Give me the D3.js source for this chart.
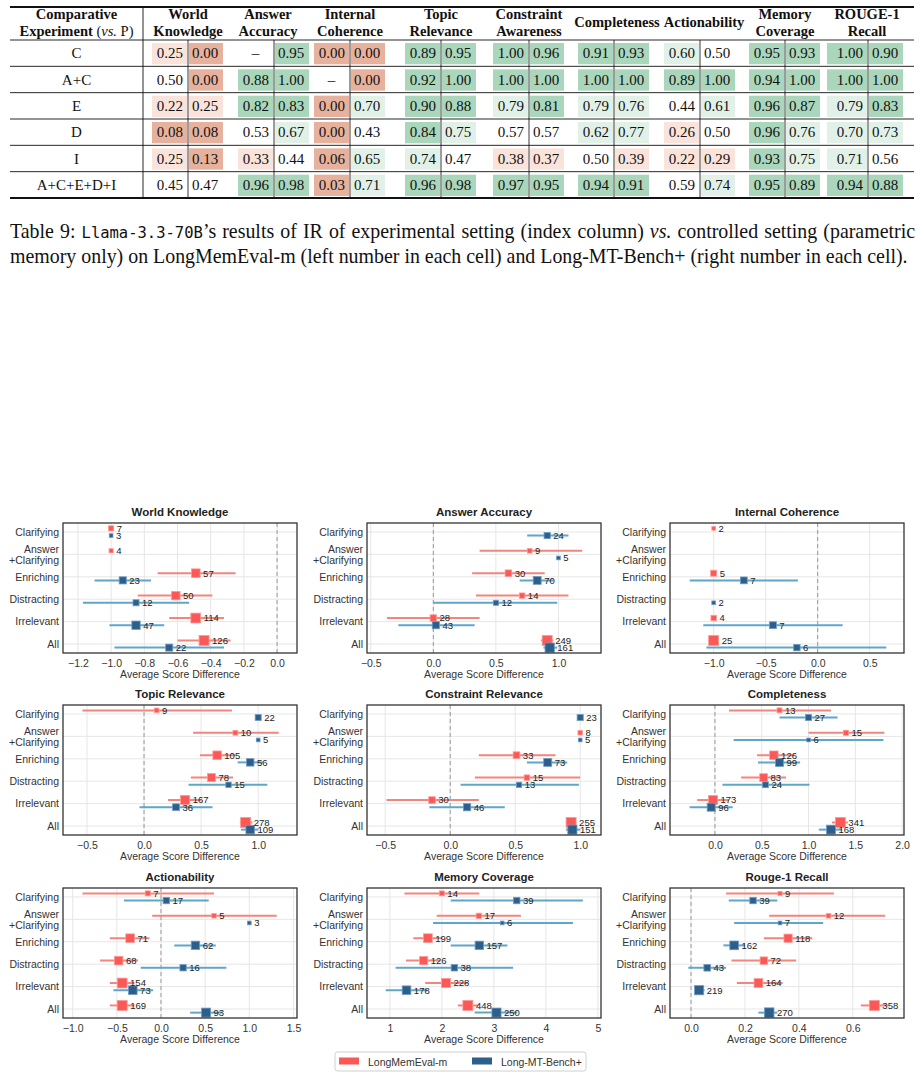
<!DOCTYPE html>
<html>
<head>
<meta charset="utf-8">
<script src="https://cdn.jsdelivr.net/npm/d3@7"></script>
<style>
  body { margin: 0; background: #fff; }
  svg { display: block; }
</style>
</head>
<body>
<svg id="chart" width="920" height="1078"></svg>
<script>
// ---------------- table data ----------------
const tableRows = ["C", "A+C", "E", "D", "I", "A+C+E+D+I"];
const tableHeaders = [["World", "Knowledge"], ["Answer", "Accuracy"], ["Internal", "Coherence"],
  ["Topic", "Relevance"], ["Constraint", "Awareness"], ["Completeness"], ["Actionability"],
  ["Memory", "Coverage"], ["ROUGE-1", "Recall"]];
// each row: [LongMemEval-m, Long-MT-Bench+], null = "–"
const worldKnowledge = [[0.25, 0.00], [0.50, 0.00], [0.22, 0.25], [0.08, 0.08], [0.25, 0.13], [0.45, 0.47]];
const answerAccuracy = [[null, 0.95], [0.88, 1.00], [0.82, 0.83], [0.53, 0.67], [0.33, 0.44], [0.96, 0.98]];
const internalCoherence = [[0.00, 0.00], [null, 0.00], [0.00, 0.70], [0.00, 0.43], [0.06, 0.65], [0.03, 0.71]];
const topicRelevance = [[0.89, 0.95], [0.92, 1.00], [0.90, 0.88], [0.84, 0.75], [0.74, 0.47], [0.96, 0.98]];
const constraintAwareness = [[1.00, 0.96], [1.00, 1.00], [0.79, 0.81], [0.57, 0.57], [0.38, 0.37], [0.97, 0.95]];
const completeness = [[0.91, 0.93], [1.00, 1.00], [0.79, 0.76], [0.62, 0.77], [0.50, 0.39], [0.94, 0.91]];
const actionability = [[0.60, 0.50], [0.89, 1.00], [0.44, 0.61], [0.26, 0.50], [0.22, 0.29], [0.59, 0.74]];
const memoryCoverage = [[0.95, 0.93], [0.94, 1.00], [0.96, 0.87], [0.96, 0.76], [0.93, 0.75], [0.95, 0.89]];
const rougeRecall = [[1.00, 0.90], [1.00, 1.00], [0.79, 0.83], [0.70, 0.73], [0.71, 0.56], [0.94, 0.88]];
const tableValues = [worldKnowledge, answerAccuracy, internalCoherence, topicRelevance,
  constraintAwareness, completeness, actionability, memoryCoverage, rougeRecall];

// ---------------- panel data ----------------
const categories = ["Clarifying", "Answer\n+Clarifying", "Enriching", "Distracting", "Irrelevant", "All"];
const panelTitles = ["World Knowledge", "Answer Accuracy", "Internal Coherence", "Topic Relevance",
  "Constraint Relevance", "Completeness", "Actionability", "Memory Coverage", "Rouge-1 Recall"];
const seriesNames = ["LongMemEval-m", "Long-MT-Bench+"];
const panelDomains = [[-1.29, 0.12], [-0.53, 1.34], [-1.42, 0.83], [-0.71, 1.34], [-0.64, 1.16],
  [-0.48, 2.02], [-1.11, 1.54], [0.56, 5.06], [-0.078, 0.79]];
const panelTicks = [[-1.2, -1.0, -0.8, -0.6, -0.4, -0.2, 0.0], [-0.5, 0, 0.5, 1], [-1, -0.5, 0, 0.5],
  [-0.5, 0, 0.5, 1], [-0.5, 0, 0.5, 1], [0, 0.5, 1, 1.5, 2], [-1, -0.5, 0, 0.5, 1, 1.5],
  [1, 2, 3, 4, 5], [0, 0.2, 0.4, 0.6]];

// [mean, ciLow, ciHigh, n] per category, null = no data
const memEvalStats = [
  [[-1.0, -1.0, -1.0, 7], [-1.0, -1.0, -1.0, 4], [-0.49, -0.72, -0.25, 57], [-0.61, -0.84, -0.39, 50], [-0.49, -0.65, -0.32, 114], [-0.44, -0.60, -0.28, 126]],
  [null, [0.77, 0.37, 1.19, 9], [0.60, 0.31, 0.89, 30], [0.71, 0.34, 1.08, 14], [0.0, -0.37, 0.37, 28], [0.91, 0.86, 0.96, 249]],
  [[-1, -1, -1, 2], null, [-1, -1, -1, 5], null, [-1, -1, -1, 4], [-1, -1, -1, 25]],
  [[0.11, -0.54, 0.77, 9], [0.80, 0.43, 1.18, 10], [0.64, 0.49, 0.80, 105], [0.59, 0.41, 0.78, 78], [0.36, 0.21, 0.50, 167], [0.89, 0.84, 0.95, 278]],
  [null, [1, 1, 1, 8], [0.51, 0.22, 0.81, 33], [0.59, 0.19, 1.0, 15], [-0.14, -0.49, 0.22, 30], [0.93, 0.89, 0.97, 255]],
  [[0.69, 0.15, 1.24, 13], [1.40, 1.0, 1.81, 15], [0.63, 0.45, 0.85, 126], [0.52, 0.28, 0.76, 83], [-0.02, -0.19, 0.15, 173], [1.34, 1.25, 1.42, 341]],
  [[-0.15, -0.89, 0.60, 7], [0.60, -0.10, 1.31, 5], [-0.35, -0.58, -0.13, 71], [-0.48, -0.69, -0.26, 68], [-0.44, -0.58, -0.30, 154], [-0.44, -0.58, -0.30, 169]],
  [[2.0, 1.28, 2.72, 14], [2.71, 1.90, 3.52, 17], [1.73, 1.45, 2.01, 199], [1.65, 1.31, 1.97, 126], [2.08, 1.68, 2.50, 228], [2.50, 2.31, 2.70, 448]],
  [[0.33, 0.13, 0.53, 9], [0.51, 0.29, 0.72, 12], [0.36, 0.27, 0.45, 118], [0.27, 0.15, 0.39, 72], [0.25, 0.17, 0.34, 164], [0.68, 0.63, 0.73, 358]]
];
const mtBenchStats = [
  [[-1, -1, -1, 3], null, [-0.93, -1.10, -0.76, 23], [-0.85, -1.17, -0.53, 12], [-0.85, -1.01, -0.68, 47], [-0.65, -0.98, -0.32, 22]],
  [[0.91, 0.75, 1.08, 24], [1, 1, 1, 5], [0.83, 0.69, 0.96, 70], [0.50, 0.0, 0.99, 12], [0.02, -0.28, 0.33, 43], [0.93, 0.88, 0.99, 161]],
  [null, null, [-0.71, -1.23, -0.19, 7], [-1, -1, -1, 2], [-0.43, -1.10, 0.24, 7], [-0.20, -1.07, 0.66, 6]],
  [[1, 1, 1, 22], [1, 1, 1, 5], [0.93, 0.82, 1.04, 56], [0.74, 0.39, 1.08, 15], [0.28, -0.04, 0.60, 36], [0.93, 0.85, 1.0, 109]],
  [[1, 1, 1, 23], [1, 1, 1, 5], [0.75, 0.59, 0.90, 73], [0.53, 0.08, 0.99, 13], [0.13, -0.16, 0.42, 46], [0.94, 0.89, 1.0, 151]],
  [[1.0, 0.69, 1.31, 27], [1.0, 0.20, 1.80, 6], [0.69, 0.46, 0.91, 99], [0.54, 0.08, 1.01, 24], [-0.04, -0.27, 0.19, 96], [1.24, 1.11, 1.36, 168]],
  [[0.06, -0.42, 0.54, 17], [1, 1, 1, 3], [0.39, 0.15, 0.62, 62], [0.25, -0.23, 0.74, 16], [-0.32, -0.54, -0.09, 73], [0.51, 0.33, 0.69, 93]],
  [[3.44, 2.17, 4.71, 39], [3.16, 1.83, 4.52, 6], [2.72, 2.17, 3.26, 157], [2.24, 1.11, 3.37, 38], [1.32, 0.92, 1.72, 178], [3.05, 2.63, 3.45, 250]],
  [[0.23, 0.14, 0.32, 39], [0.33, 0.16, 0.49, 7], [0.16, 0.12, 0.20, 162], [0.06, -0.01, 0.13, 43], [0.03, 0.015, 0.05, 219], [0.29, 0.25, 0.32, 270]]
];

// ---------------- setup ----------------
const svg = d3.select("#chart");
svg.append("rect").attr("width", 920).attr("height", 1078).attr("fill", "#fff");

const serif = "'Liberation Serif', 'Times New Roman', serif";
const sans = "'Liberation Sans', Arial, sans-serif";

/* ===== Table ===== */
const rowY = d3.scaleBand().domain(tableRows).range([40, 198]);
const cellColor = d3.scaleThreshold()
  .domain([0.2, 0.4, 0.6, 0.8])
  .range(["#e6b19d", "#f9e3da", "#ffffff", "#e2f1e7", "#aad6bb"]);
const dividerX = [188, 274, 350, 441, 529, 614, 700, 785, 868];
const headerX = [188, 268, 350, 441, 529, 617, 704, 785, 867];
const fmt2 = d3.format(".2f");

const table = svg.append("g").attr("font-family", serif).attr("fill", "#111");

tableValues.forEach((metric, m) => {
  const dx = dividerX[m];
  const lw = m === 8 ? 41 : 36;
  const g = table.append("g");
  metric.forEach((pair, r) => {
    const y0 = rowY(tableRows[r]);
    pair.forEach((v, k) => {
      const cx0 = k === 0 ? dx - lw : dx + 1;
      const cw = k === 0 ? lw - 1 : 34;
      if (v !== null) {
        g.append("rect")
          .attr("x", cx0).attr("y", y0 + 3)
          .attr("width", cw).attr("height", rowY.bandwidth() - 5)
          .attr("fill", cellColor(v));
      }
      const t = g.append("text")
        .attr("y", y0 + rowY.bandwidth() / 2 + 5)
        .attr("font-size", 15)
        .text(v === null ? "–" : fmt2(v));
      if (v === null) t.attr("x", cx0 + cw / 2).attr("text-anchor", "middle");
      else if (k === 0) t.attr("x", dx - 5).attr("text-anchor", "end");
      else t.attr("x", dx + 4).attr("text-anchor", "start");
    });
  });
  // divider inside each metric pair
  g.append("line").attr("x1", dx).attr("x2", dx).attr("y1", 40).attr("y2", 198)
    .attr("stroke", "#222").attr("stroke-width", 0.9);
  // header
  const hdr = tableHeaders[m];
  hdr.forEach((line, li) => {
    g.append("text")
      .attr("x", headerX[m])
      .attr("y", hdr.length === 1 ? 27 : 19 + li * 17)
      .attr("text-anchor", "middle")
      .attr("font-size", 14.5).attr("font-weight", "bold")
      .text(line);
  });
});

// row labels
table.append("g").selectAll("text").data(tableRows).join("text")
  .attr("x", 76.5)
  .attr("y", d => rowY(d) + rowY.bandwidth() / 2 + 5)
  .attr("text-anchor", "middle").attr("font-size", 15)
  .text(d => d);

// first header cell
table.append("text").attr("x", 76.5).attr("y", 19).attr("text-anchor", "middle")
  .attr("font-size", 14.5).attr("font-weight", "bold").text("Comparative");
const h2 = table.append("text").attr("x", 76.5).attr("y", 36).attr("text-anchor", "middle")
  .attr("font-size", 14.5);
h2.append("tspan").attr("font-weight", "bold").text("Experiment ");
h2.append("tspan").text("(");
h2.append("tspan").attr("font-style", "italic").text("vs.");
h2.append("tspan").text(" P)");

// rules
const ruleY = [7].concat(tableRows.map(d => rowY(d)), [198]);
table.append("g").selectAll("line").data(ruleY).join("line")
  .attr("x1", 10).attr("x2", 914)
  .attr("y1", d => d).attr("y2", d => d)
  .attr("stroke", "#111")
  .attr("stroke-width", (d, i) => (i === 0 || i === ruleY.length - 1) ? 1.8 : 0.9);
table.append("line").attr("x1", 143).attr("x2", 143).attr("y1", 7).attr("y2", 198)
  .attr("stroke", "#111").attr("stroke-width", 0.9);

/* ===== Caption ===== */
const capSize = 19.9;
const cap1 = svg.append("text").attr("x", 10).attr("y", 238)
  .attr("font-family", serif).attr("font-size", capSize).attr("fill", "#111");
cap1.append("tspan").text("Table 9: ");
cap1.append("tspan").attr("font-family", "'DejaVu Sans Mono', monospace").attr("font-size", 15.5).text("Llama-3.3-70B");
cap1.append("tspan").text("’s results of IR of experimental setting (index column) ");
cap1.append("tspan").attr("font-style", "italic").text("vs.");
cap1.append("tspan").text(" controlled setting (parametric");
// justify first line
const natural = cap1.node().getComputedTextLength();
const spaces = cap1.text().split(" ").length - 1;
cap1.attr("word-spacing", Math.max(0, (905 - natural) / spaces));

svg.append("text").attr("x", 10).attr("y", 263)
  .attr("font-family", serif).attr("font-size", capSize).attr("fill", "#111")
  .text("memory only) on LongMemEval-m (left number in each cell) and Long-MT-Bench+ (right number in each cell).");

/* ===== Panels ===== */
const panelCols = [63, 367, 670];
const panelRows = [523, 705, 888];
const PW = 234, PH = 130;
const markerColor = ["#fb5858", "#2e5e8a"];
const ciColor = ["#f4857d", "#5fa6cb"];
const edgeColor = ["#ff9a94", "#6f9dc4"];

panelTitles.forEach((title, i) => {
  const g = svg.append("g")
    .attr("transform", `translate(${panelCols[i % 3]},${panelRows[Math.floor(i / 3)]})`)
    .attr("font-family", sans);

  const x = d3.scaleLinear().domain(panelDomains[i]).range([0, PW]);
  const y = d3.scalePoint().domain(categories).range([0, PH]).padding(0.4);
  const off = y.step() * 0.16;
  const both = [memEvalStats[i], mtBenchStats[i]];
  const counts = both.flat().filter(d => d).map(d => d[3]);
  const size = d3.scaleLog().domain(d3.extent(counts)).range([3.7, 10]);
  const tickFmt = i === 7 ? d3.format("d") : d3.format(".1f");

  // grid
  g.append("g").selectAll("line").data(panelTicks[i]).join("line")
    .attr("x1", d => x(d)).attr("x2", d => x(d)).attr("y1", 0).attr("y2", PH)
    .attr("stroke", "#e6e6e6").attr("stroke-width", 1);
  g.append("g").selectAll("line").data(categories).join("line")
    .attr("x1", 0).attr("x2", PW).attr("y1", d => y(d)).attr("y2", d => y(d))
    .attr("stroke", "#e6e6e6").attr("stroke-width", 1);

  // zero reference
  if (x.domain()[0] < 0 && x.domain()[1] > 0) {
    g.append("line").attr("x1", x(0)).attr("x2", x(0)).attr("y1", 0).attr("y2", PH)
      .attr("stroke", "#999").attr("stroke-width", 1).attr("stroke-dasharray", "4,3");
  }

  const points = [];
  both.forEach((stats, s) => {
    stats.forEach((d, c) => {
      if (!d) return;
      points.push({ s, mean: d[0], lo: d[1], hi: d[2], n: d[3],
        py: y(categories[c]) + (s === 0 ? -off : off) });
    });
  });

  // CI lines
  g.append("g").selectAll("line").data(points.filter(p => p.hi > p.lo)).join("line")
    .attr("x1", p => x(p.lo)).attr("x2", p => x(p.hi))
    .attr("y1", p => p.py).attr("y2", p => p.py)
    .attr("stroke", p => ciColor[p.s]).attr("stroke-width", 2);

  // markers
  g.append("g").selectAll("rect").data(points).join("rect")
    .attr("x", p => x(p.mean) - size(p.n) / 2)
    .attr("y", p => p.py - size(p.n) / 2)
    .attr("width", p => size(p.n)).attr("height", p => size(p.n))
    .attr("fill", p => markerColor[p.s])
    .attr("stroke", p => edgeColor[p.s]).attr("stroke-width", 0.8);

  // count labels
  g.append("g").selectAll("text").data(points).join("text")
    .attr("x", p => x(p.mean) + size(p.n) / 2 + 3)
    .attr("y", p => p.py).attr("dy", "0.35em")
    .attr("font-size", 9.5).attr("fill", "#222")
    .text(p => p.n);

  // frame
  g.append("rect").attr("width", PW).attr("height", PH)
    .attr("fill", "none").attr("stroke", "#333").attr("stroke-width", 1.3);

  // axes
  g.append("g").attr("transform", `translate(0,${PH})`)
    .call(d3.axisBottom(x).tickValues(panelTicks[i]).tickFormat(tickFmt).tickSize(0).tickPadding(6.5))
    .call(a => a.select(".domain").remove())
    .call(a => a.selectAll("text").attr("font-size", 10.5).attr("font-family", sans).attr("fill", "#333"));

  g.append("g")
    .call(d3.axisLeft(y).tickSize(0).tickPadding(4))
    .call(a => a.select(".domain").remove())
    .call(a => a.selectAll("text").attr("font-size", 10.5).attr("font-family", sans).attr("fill", "#333")
      .each(function (d) {
        const lines = d.split("\n");
        if (lines.length < 2) return;
        const t = d3.select(this).text("").attr("dy", null);
        t.append("tspan").attr("x", -4).attr("dy", "-0.18em").text(lines[0]);
        t.append("tspan").attr("x", -4).attr("dy", "1.05em").text(lines[1]);
      }));

  g.append("text").attr("x", PW / 2).attr("y", -7).attr("text-anchor", "middle")
    .attr("font-size", 11.5).attr("font-weight", "bold").attr("fill", "#222").text(title);
  g.append("text").attr("x", PW / 2).attr("y", PH + 25).attr("text-anchor", "middle")
    .attr("font-size", 10.5).attr("fill", "#333").text("Average Score Difference");
});

/* ===== Legend ===== */
const legend = svg.append("g").attr("transform", "translate(335,1052)").attr("font-family", sans);
legend.append("rect").attr("width", 251).attr("height", 19).attr("rx", 2.5)
  .attr("fill", "#fff").attr("stroke", "#cfcfcf");
seriesNames.forEach((name, k) => {
  legend.append("rect").attr("x", 4 + k * 133).attr("y", 5.5).attr("width", 20).attr("height", 7)
    .attr("fill", markerColor[k]);
  legend.append("text").attr("x", 33 + k * 133).attr("y", 13.5)
    .attr("font-size", 10.5).attr("fill", "#333").text(name);
});
</script>
</body>
</html>
